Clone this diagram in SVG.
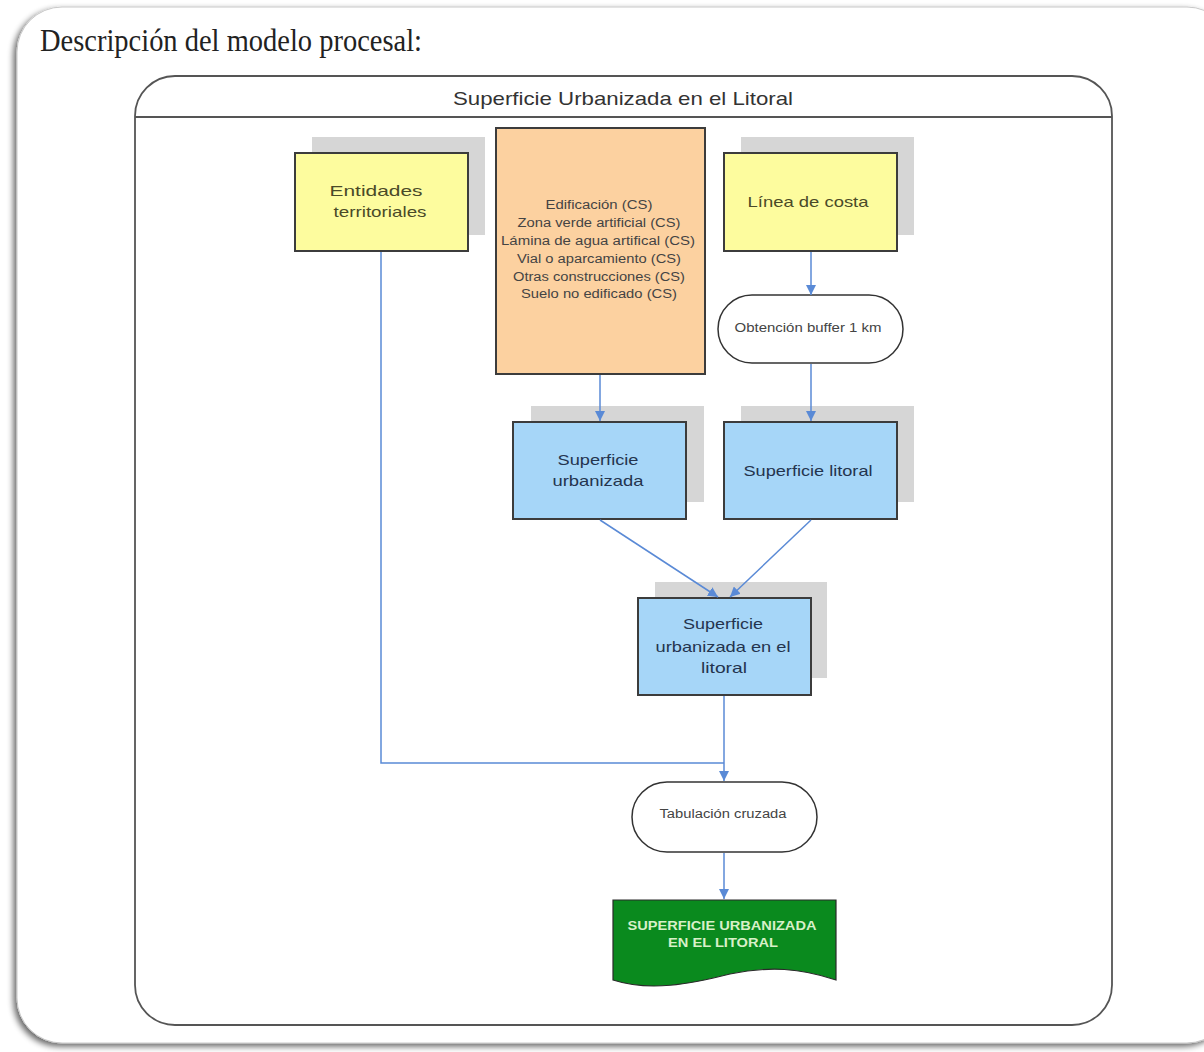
<svg xmlns="http://www.w3.org/2000/svg" width="1204" height="1052" viewBox="0 0 1204 1052">
<defs>
<filter id="fs" x="-5%" y="-5%" width="110%" height="110%">
<feGaussianBlur in="SourceAlpha" stdDeviation="3"/>
<feOffset dx="-3" dy="3"/>
<feComponentTransfer><feFuncA type="linear" slope="0.6"/></feComponentTransfer>
<feMerge><feMergeNode/><feMergeNode in="SourceGraphic"/></feMerge>
</filter>
<marker id="ar" viewBox="0 0 10 10" refX="10" refY="5" markerWidth="10" markerHeight="10" orient="auto" markerUnits="userSpaceOnUse">
<path d="M0,0 L10,5 L0,10 z" fill="#5a8ad6"/>
</marker>
<style>
.sh{fill:#d6d6d6}
.bx{stroke:#3c3c3c;stroke-width:2}
.yl{fill:#fdfc9e}
.or{fill:#fcd1a0}
.bl{fill:#a6d6f8}
.t{font-family:"Liberation Sans",Arial,sans-serif;text-anchor:middle}
.ty{fill:#4a4a28;font-size:15px}
.tb{fill:#24344e;font-size:15px}
.ts{fill:#444;font-size:12px}
.cn{fill:none;stroke:#5a8ad6;stroke-width:1.5}
.st{fill:#fff;stroke:#333;stroke-width:1.5}
</style>
</defs>
<rect width="1204" height="1052" fill="#fff"/>
<rect x="17" y="7" width="1215" height="1036" rx="45" fill="#fff" stroke="#c8c8c8" stroke-width="1" filter="url(#fs)"/>
<text x="40" y="51" font-family="Liberation Serif,Times New Roman,serif" font-size="32" fill="#222" textLength="382" lengthAdjust="spacingAndGlyphs">Descripción del modelo procesal:</text>

<g id="container">
<rect x="135" y="76" width="977" height="949" rx="40" fill="#fff" stroke="#555" stroke-width="1.8"/>
<line x1="135" y1="117" x2="1112" y2="117" stroke="#555" stroke-width="1.8"/>
<text class="t" x="623" y="105" font-size="19" fill="#333" textLength="340" lengthAdjust="spacingAndGlyphs">Superficie Urbanizada en el Litoral</text>
</g>

<g id="entidades">
<rect class="sh" x="312" y="137" width="173" height="98"/>
<rect class="bx yl" x="295" y="153" width="173" height="98"/>
<text class="t ty" x="376" y="196" textLength="93" lengthAdjust="spacingAndGlyphs">Entidades</text>
<text class="t ty" x="380" y="217" textLength="93" lengthAdjust="spacingAndGlyphs">territoriales</text>
</g>

<g id="coberturas">
<rect class="bx or" x="496" y="128" width="209" height="246"/>
<text class="t ts" x="599" y="209" textLength="107" lengthAdjust="spacingAndGlyphs">Edificación (CS)</text>
<text class="t ts" x="599" y="227" textLength="163" lengthAdjust="spacingAndGlyphs">Zona verde artificial (CS)</text>
<text class="t ts" x="598" y="245" textLength="194" lengthAdjust="spacingAndGlyphs">Lámina de agua artifical (CS)</text>
<text class="t ts" x="599" y="263" textLength="164" lengthAdjust="spacingAndGlyphs">Vial o aparcamiento (CS)</text>
<text class="t ts" x="599" y="281" textLength="172" lengthAdjust="spacingAndGlyphs">Otras construcciones (CS)</text>
<text class="t ts" x="599" y="298" textLength="156" lengthAdjust="spacingAndGlyphs">Suelo no edificado (CS)</text>
</g>

<g id="linea-costa">
<rect class="sh" x="741" y="137" width="173" height="98"/>
<rect class="bx yl" x="724" y="153" width="173" height="98"/>
<text class="t ty" x="808" y="207" textLength="121" lengthAdjust="spacingAndGlyphs">Línea de costa</text>
</g>

<g id="buffer">
<rect class="st" x="718" y="295" width="185" height="68" rx="34"/>
<text class="t ts" x="808" y="332" textLength="147" lengthAdjust="spacingAndGlyphs">Obtención buffer 1 km</text>
</g>

<g id="sup-urbanizada">
<rect class="sh" x="531" y="406" width="173" height="96"/>
<rect class="bx bl" x="513" y="422" width="173" height="97"/>
<text class="t tb" x="598" y="465" textLength="81" lengthAdjust="spacingAndGlyphs">Superficie</text>
<text class="t tb" x="598" y="486" textLength="91" lengthAdjust="spacingAndGlyphs">urbanizada</text>
</g>

<g id="sup-litoral">
<rect class="sh" x="741" y="406" width="173" height="96"/>
<rect class="bx bl" x="724" y="422" width="173" height="97"/>
<text class="t tb" x="808" y="476" textLength="129" lengthAdjust="spacingAndGlyphs">Superficie litoral</text>
</g>

<g id="sup-urb-litoral">
<rect class="sh" x="655" y="582" width="172" height="96"/>
<rect class="bx bl" x="638" y="598" width="173" height="97"/>
<text class="t tb" x="723" y="629" textLength="80" lengthAdjust="spacingAndGlyphs">Superficie</text>
<text class="t tb" x="723" y="652" textLength="135" lengthAdjust="spacingAndGlyphs">urbanizada en el</text>
<text class="t tb" x="724" y="673" textLength="46" lengthAdjust="spacingAndGlyphs">litoral</text>
</g>

<g id="tabulacion">
<rect class="st" x="632" y="782" width="185" height="70" rx="35"/>
<text class="t ts" x="723" y="818" textLength="127" lengthAdjust="spacingAndGlyphs">Tabulación cruzada</text>
</g>

<g id="resultado">
<path d="M613,900 H836 V980 C800,968 770,966 730,974 C690,984 650,992 613,980 Z" fill="#0a8a1e" stroke="#2a2a2a" stroke-width="1.2"/>
<text class="t" x="722" y="930" font-size="12" font-weight="bold" fill="#d8f0c8" textLength="189" lengthAdjust="spacingAndGlyphs">SUPERFICIE URBANIZADA</text>
<text class="t" x="723" y="947" font-size="12" font-weight="bold" fill="#d8f0c8" textLength="110" lengthAdjust="spacingAndGlyphs">EN EL LITORAL</text>
</g>

<g id="connectors">
<path class="cn" d="M381,252 V763 H724"/>
<path class="cn" d="M811,252 V295" marker-end="url(#ar)"/>
<path class="cn" d="M600,375 V421" marker-end="url(#ar)"/>
<path class="cn" d="M811,364 V421" marker-end="url(#ar)"/>
<path class="cn" d="M600,520 L718,597" marker-end="url(#ar)"/>
<path class="cn" d="M811,520 L730,597" marker-end="url(#ar)"/>
<path class="cn" d="M724,696 V781" marker-end="url(#ar)"/>
<path class="cn" d="M724,853 V899" marker-end="url(#ar)"/>
</g>
</svg>
